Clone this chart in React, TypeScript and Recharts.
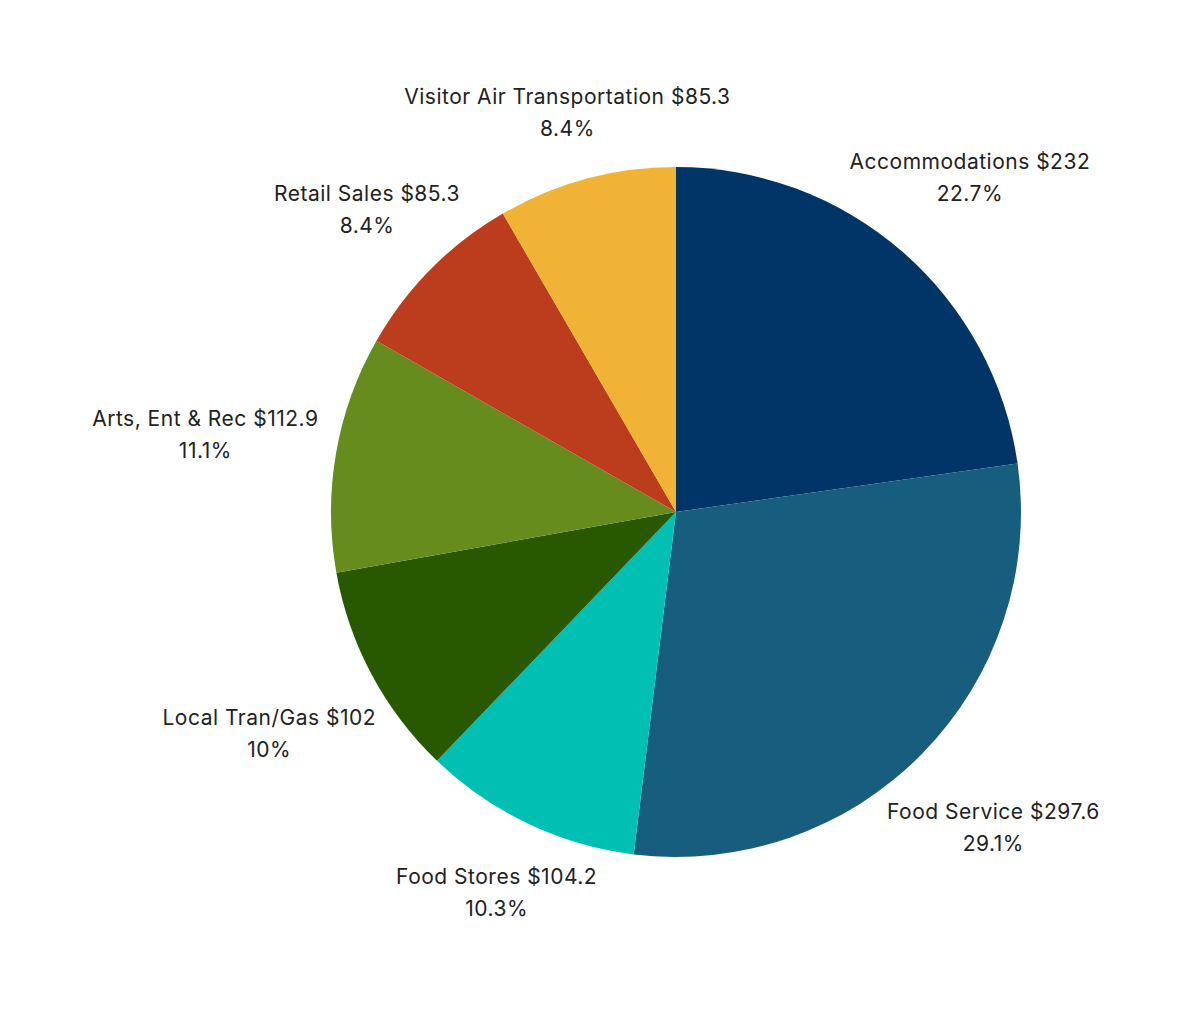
import React from "react";
import { PieChart, Pie, Cell } from "recharts";

const categories = [
  "Accommodations",
  "Food Service",
  "Food Stores",
  "Local Tran/Gas",
  "Arts, Ent & Rec",
  "Retail Sales",
  "Visitor Air Transportation",
];
const spending = [232, 297.6, 104.2, 102, 112.9, 85.3, 85.3];
const percentLabels = ["22.7%", "29.1%", "10.3%", "10%", "11.1%", "8.4%", "8.4%"];
const colors = ["#023567", "#175d7d", "#00bfb3", "#285800", "#678c1e", "#bb3d1e", "#f0b336"];

const data = categories.map((name, i) => ({
  name,
  value: spending[i],
  pct: percentLabels[i],
}));

const FONT = "Inter, 'Noto Sans', sans-serif";
const FONT_SIZE = 21;
const LETTER_SPACING = 0.5;
const LINE_GAP = 32;
const LABEL_BASE = 366;
const LABEL_SHIFT_Y = 4;

let ctx: CanvasRenderingContext2D | null = null;
function measure(text: string): number {
  if (!ctx && typeof document !== "undefined") {
    ctx = document.createElement("canvas").getContext("2d");
  }
  if (!ctx) return text.length * 11;
  ctx.font = `${FONT_SIZE}px Inter`;
  return ctx.measureText(text).width + text.length * LETTER_SPACING;
}

const renderLabel = (props: any) => {
  const { cx, cy, midAngle, payload, index } = props;
  const rad = (midAngle * Math.PI) / 180;
  const ux = Math.cos(rad);
  const uy = -Math.sin(rad);
  const line1 = `${payload.name} $${payload.value}`;
  const line2 = payload.pct;
  const hw = Math.max(measure(line1), measure(line2)) / 2;
  const hh = 31;
  const r = LABEL_BASE + Math.sqrt((hw * ux) ** 2 + (hh * uy) ** 2);
  const x = cx + r * ux;
  const y = cy + r * uy + LABEL_SHIFT_Y;
  return (
    <text
      key={`lbl-${index}`}
      x={x}
      y={y}
      textAnchor="middle"
      fill="#222222"
      fontFamily={FONT}
      fontSize={FONT_SIZE}
      letterSpacing={LETTER_SPACING}
    >
      <tspan x={x} y={y - LINE_GAP / 2} dominantBaseline="central">
        {line1}
      </tspan>
      <tspan x={x} y={y + LINE_GAP / 2} dominantBaseline="central">
        {line2}
      </tspan>
    </text>
  );
};

export default function App() {
  return (
    <div style={{ position: "absolute", left: 0, top: 0, width: 1200, height: 1015, background: "#ffffff" }}>
      <PieChart width={1200} height={1015} margin={{ top: 0, right: 0, bottom: 0, left: 0 }}>
        <Pie
          data={data}
          dataKey="value"
          nameKey="name"
          cx={676}
          cy={512}
          outerRadius={345}
          startAngle={90}
          endAngle={-270}
          stroke="none"
          label={renderLabel}
          labelLine={false}
          isAnimationActive={false}
        >
          {data.map((d, i) => (
            <Cell key={d.name} fill={colors[i]} />
          ))}
        </Pie>
      </PieChart>
    </div>
  );
}
